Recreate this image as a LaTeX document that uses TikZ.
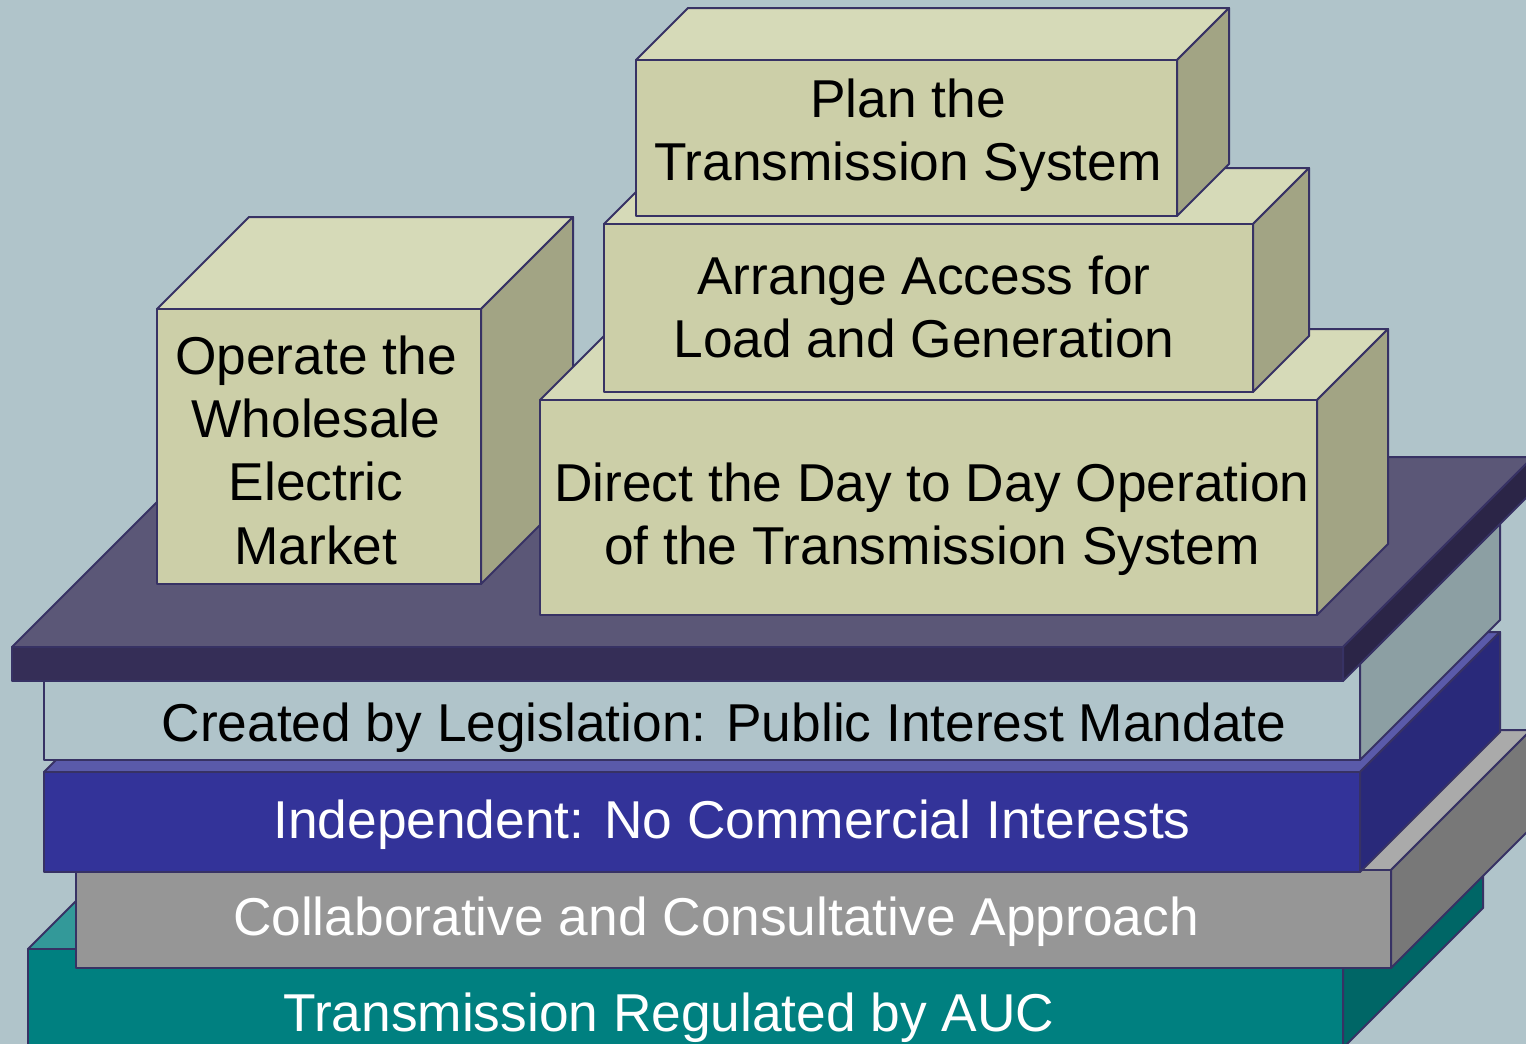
\documentclass[tikz,border=0pt]{standalone}
\usepackage{fontspec}
\setmainfont{Liberation Sans}
\definecolor{bg}{RGB}{176,196,202}
\definecolor{edge}{RGB}{55,50,100}
\definecolor{tealF}{RGB}{0,128,128}
\definecolor{tealT}{RGB}{51,153,153}
\definecolor{tealS}{RGB}{0,102,102}
\definecolor{grayF}{RGB}{150,150,150}
\definecolor{grayT}{RGB}{170,170,170}
\definecolor{grayS}{RGB}{120,120,120}
\definecolor{blueF}{RGB}{51,51,153}
\definecolor{blueT}{RGB}{90,90,170}
\definecolor{blueS}{RGB}{41,41,122}
\definecolor{lightF}{RGB}{176,196,202}
\definecolor{lightS}{RGB}{140,159,163}
\definecolor{platT}{RGB}{91,87,119}
\definecolor{platF}{RGB}{53,46,87}
\definecolor{platS}{RGB}{43,37,71}
\definecolor{cubeF}{RGB}{204,207,168}
\definecolor{cubeT}{RGB}{214,218,184}
\definecolor{cubeS}{RGB}{162,164,132}
\tikzset{
  lbl/.style={font=\fontsize{53.3}{63.3}\selectfont, align=center, inner sep=0pt},
  facedraw/.style={draw=edge, line width=2, line join=round}
}
% x1 y1 x2 y2 depth front top side
\newcommand\threebox[8]{%
  \filldraw[facedraw, fill=#7] (#1,#2) -- ({#1+#5},{#2-#5}) -- ({#3+#5},{#2-#5}) -- (#3,#2) -- cycle;
  \filldraw[facedraw, fill=#8] (#3,#2) -- ({#3+#5},{#2-#5}) -- ({#3+#5},{#4-#5}) -- (#3,#4) -- cycle;
  \filldraw[facedraw, fill=#6] (#1,#2) rectangle (#3,#4);
}
\begin{document}
\begin{tikzpicture}[x=1pt,y=-1pt]
\useasboundingbox (0,0) rectangle (1526,1044);
\fill[bg] (0,0) rectangle (1526,1044);
\clip (0,0) rectangle (1526,1044);
% base layers
\threebox{28}{949}{1343}{1048}{140}{tealF}{tealT}{tealS}
\threebox{76}{870}{1391}{968}{140}{grayF}{grayT}{grayS}
\threebox{44}{772}{1360}{872}{140}{blueF}{blueT}{blueS}
\threebox{44}{664}{1360}{760}{140}{lightF}{lightF}{lightS}
\threebox{12}{647}{1343}{681}{190}{platF}{platT}{platS}
% cubes
\threebox{157}{309}{481}{584}{92}{cubeF}{cubeT}{cubeS}
\threebox{540}{400}{1317}{615}{71}{cubeF}{cubeT}{cubeS}
\threebox{604}{224}{1253}{392}{56}{cubeF}{cubeT}{cubeS}
\threebox{636}{60}{1177}{216}{52}{cubeF}{cubeT}{cubeS}
% labels
\node[lbl, anchor=base] (auc) at (669,1031) {\color{white}Transmission Regulated by AUC};
\node[lbl, anchor=base] (collab) at (716,935) {\color{white}Collaborative and Consultative Approach};
\node[lbl, anchor=base] (indep) at (732,838) {\color{white}Independent: No Commercial Interests};
\node[lbl, anchor=base] (legis) at (724,741) {Created by Legislation: Public Interest Mandate};
\node[lbl] (market) at (316,450) {Operate the\\Wholesale\\Electric\\Market};
\node[lbl] (direct) at (932,519) {Direct the Day to Day Operation\\of the Transmission System};
\node[lbl] (access) at (924,307) {Arrange Access for\\Load and Generation};
\node[lbl] (plan) at (908,135) {Plan the\\Transmission System};
\end{tikzpicture}
\end{document}
